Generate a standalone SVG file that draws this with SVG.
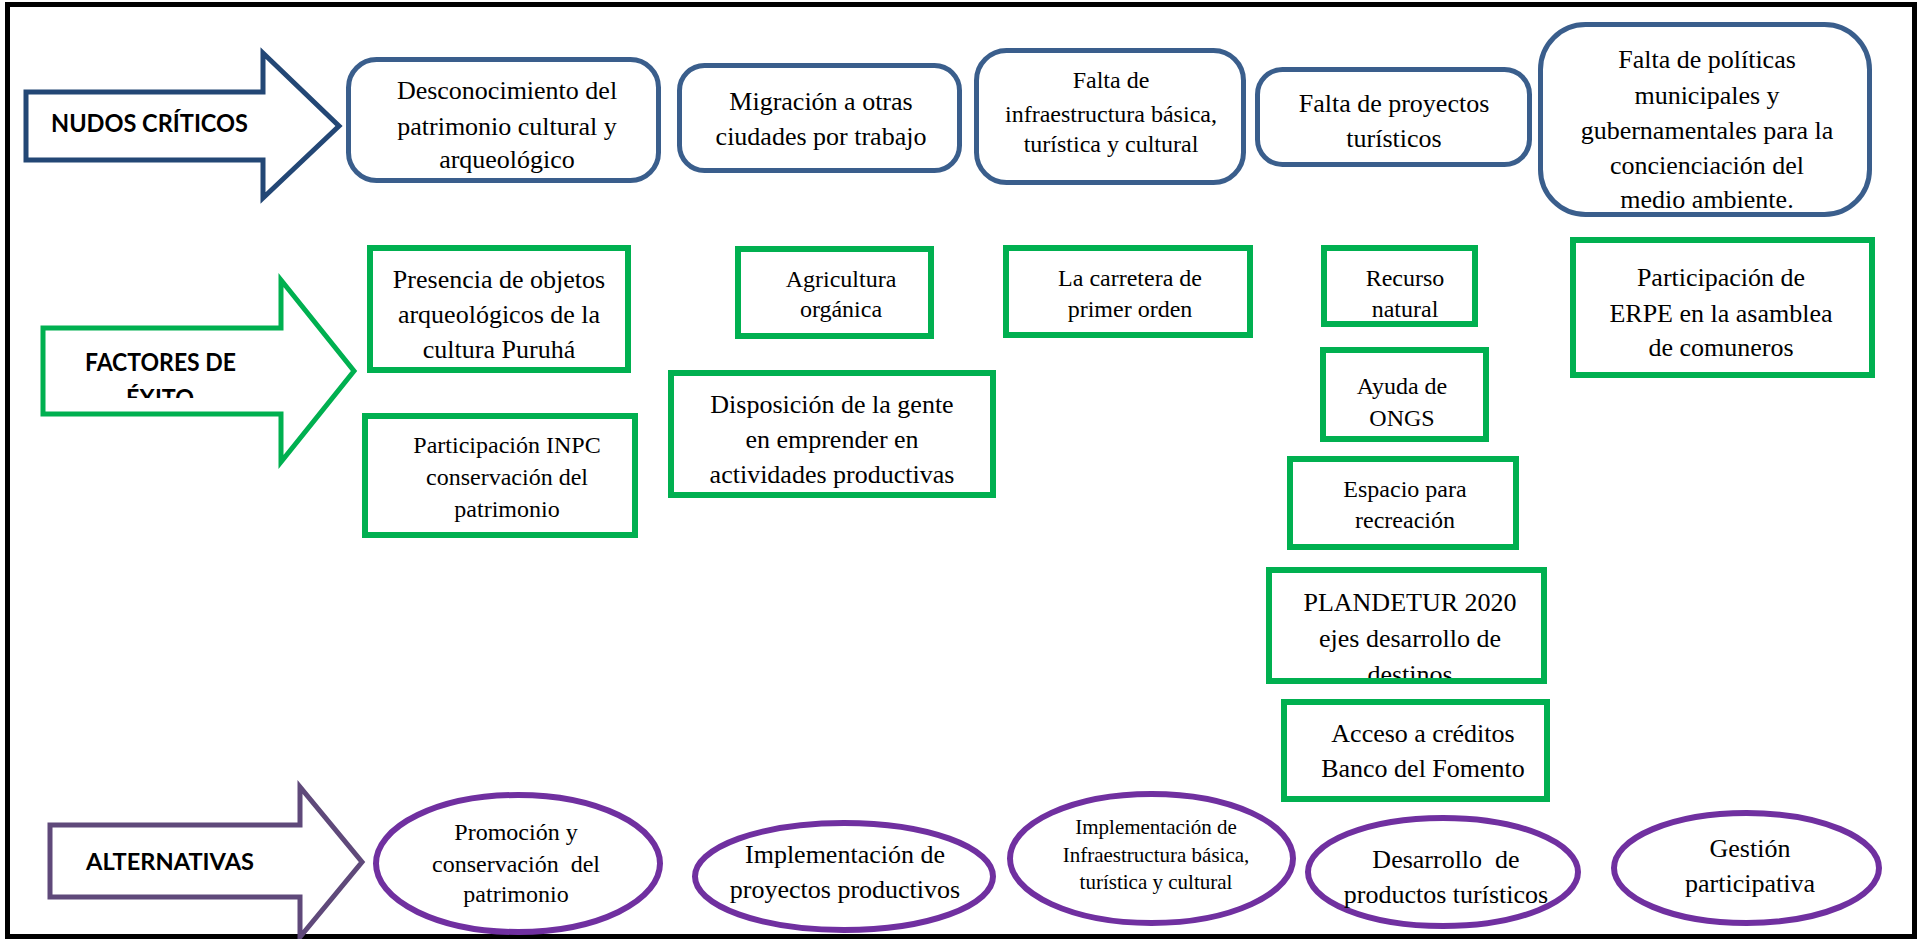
<svg xmlns="http://www.w3.org/2000/svg" width="1923" height="939" viewBox="0 0 1923 939">
<style>
.nb{fill:#fff;stroke:#3A5E8C;stroke-width:5}
.gb{fill:#fff;stroke:#00B050;stroke-width:6}
.gbo{fill:none;stroke:#00B050;stroke-width:6}
.pe{fill:#fff;stroke:#7030A0;stroke-width:6}
.t{font-family:"Liberation Serif","Times New Roman",serif;fill:#000;text-anchor:middle;white-space:pre}
.s26{font-size:26px}
.s24{font-size:24px}
.s21{font-size:21px}
.lbl{font-family:Lato,"Open Sans","Liberation Sans",sans-serif;font-weight:bold;fill:#000}
</style>
<defs>
<clipPath id="clipExito"><rect x="40" y="330" width="240" height="68"/></clipPath>
<clipPath id="clipPlan"><rect x="1266" y="567" width="281" height="114"/></clipPath>
</defs>
<rect x="0" y="0" width="1923" height="939" fill="#fff"/>
<rect x="7.5" y="4.5" width="1907" height="932" fill="none" stroke="#000" stroke-width="5"/>

<g id="label-nudos">
<polygon points="26,92 263,92 263,53 339,126 263,198 263,160 26,160" fill="#fff" stroke="#234775" stroke-width="5"/>
<text class="lbl" x="51" y="132" font-size="24" textLength="197" lengthAdjust="spacingAndGlyphs">NUDOS CRÍTICOS</text>
</g>
<g id="label-factores">
<polygon points="43,328 281,328 281,280 354,371 281,462 281,414 43,414" fill="#fff" stroke="#00B050" stroke-width="5"/>
<text class="lbl" x="85" y="371" font-size="25" textLength="151" lengthAdjust="spacingAndGlyphs">FACTORES DE</text>
<text class="lbl" x="126" y="407" font-size="25" textLength="68" lengthAdjust="spacingAndGlyphs" clip-path="url(#clipExito)">ÉXITO</text>
</g>
<g id="label-alternativas">
<polygon points="50,825 300,825 300,787 362,862 300,937 300,897 50,897" fill="#fff" stroke="#5F497A" stroke-width="5"/>
<text class="lbl" x="86" y="870" font-size="22" textLength="168" lengthAdjust="spacingAndGlyphs">ALTERNATIVAS</text>
</g>

<g id="connectors"></g>

<g id="nudo-1">
<rect class="nb" x="348.5" y="59.5" width="310" height="121" rx="28"/>
<text class="t s26" x="507" y="99">Desconocimiento del</text>
<text class="t s26" x="507" y="135">patrimonio cultural y</text>
<text class="t s26" x="507" y="168">arqueológico</text>
</g>
<g id="nudo-2">
<rect class="nb" x="679.5" y="65.5" width="280" height="105" rx="25"/>
<text class="t s26" x="821" y="110">Migración a otras</text>
<text class="t s26" x="821" y="145">ciudades por trabajo</text>
</g>
<g id="nudo-3">
<rect class="nb" x="976.5" y="50.5" width="267" height="132" rx="30"/>
<text class="t s24" x="1111" y="88">Falta de</text>
<text class="t s24" x="1111" y="122">infraestructura básica,</text>
<text class="t s24" x="1111" y="152">turística y cultural</text>
</g>
<g id="nudo-4">
<rect class="nb" x="1257.5" y="69.5" width="272" height="95" rx="25"/>
<text class="t s26" x="1394" y="112">Falta de proyectos</text>
<text class="t s26" x="1394" y="147">turísticos</text>
</g>
<g id="nudo-5">
<rect class="nb" x="1540.5" y="24.5" width="329" height="190" rx="45"/>
<text class="t s26" x="1707" y="68">Falta de políticas</text>
<text class="t s26" x="1707" y="104">municipales y</text>
<text class="t s26" x="1707" y="139">gubernamentales para la</text>
<text class="t s26" x="1707" y="174">concienciación del</text>
<text class="t s26" x="1707" y="208">medio ambiente.</text>
</g>

<g id="factor-presencia">
<rect class="gb" x="370" y="248" width="258" height="122"/>
<text class="t s26" x="499" y="288">Presencia de objetos</text>
<text class="t s26" x="499" y="323">arqueológicos de la</text>
<text class="t s26" x="499" y="358">cultura Puruhá</text>
</g>
<g id="factor-inpc">
<rect class="gb" x="365" y="416" width="270" height="119"/>
<text class="t s24" x="507" y="453">Participación INPC</text>
<text class="t s24" x="507" y="485">conservación del</text>
<text class="t s24" x="507" y="517">patrimonio</text>
</g>
<g id="factor-agricultura">
<rect class="gb" x="738" y="249" width="193" height="87"/>
<text class="t s24" x="841" y="287">Agricultura</text>
<text class="t s24" x="841" y="317">orgánica</text>
</g>
<g id="factor-disposicion">
<rect class="gb" x="671" y="373" width="322" height="122"/>
<text class="t s26" x="832" y="413">Disposición de la gente</text>
<text class="t s26" x="832" y="448">en emprender en</text>
<text class="t s26" x="832" y="483">actividades productivas</text>
</g>
<g id="factor-carretera">
<rect class="gb" x="1006" y="248" width="244" height="87"/>
<text class="t s24" x="1130" y="286">La carretera de</text>
<text class="t s24" x="1130" y="317">primer orden</text>
</g>
<g id="factor-recurso">
<rect class="gb" x="1324" y="248" width="151" height="76"/>
<text class="t s24" x="1405" y="286">Recurso</text>
<text class="t s24" x="1405" y="317">natural</text>
</g>
<g id="factor-ayuda">
<rect class="gb" x="1323" y="350" width="163" height="89"/>
<text class="t s24" x="1402" y="394">Ayuda de</text>
<text class="t s24" x="1402" y="426">ONGS</text>
</g>
<g id="factor-espacio">
<rect class="gb" x="1290" y="459" width="226" height="88"/>
<text class="t s24" x="1405" y="497">Espacio para</text>
<text class="t s24" x="1405" y="528">recreación</text>
</g>
<g id="factor-plandetur">
<rect x="1269" y="570" width="275" height="111" fill="#fff"/>
<g clip-path="url(#clipPlan)">
<text class="t s26" x="1410" y="611">PLANDETUR 2020</text>
<text class="t s26" x="1410" y="647">ejes desarrollo de</text>
<text class="t s26" x="1410" y="683">destinos</text>
</g>
<rect class="gbo" x="1269" y="570" width="275" height="111"/>
</g>
<g id="factor-acceso">
<rect class="gb" x="1284" y="702" width="263" height="97"/>
<text class="t s26" x="1423" y="742">Acceso a créditos</text>
<text class="t s26" x="1423" y="777">Banco del Fomento</text>
</g>
<g id="factor-erpe">
<rect class="gb" x="1573" y="240" width="299" height="135"/>
<text class="t s26" x="1721" y="286">Participación de</text>
<text class="t s26" x="1721" y="322">ERPE en la asamblea</text>
<text class="t s26" x="1721" y="356">de comuneros</text>
</g>

<g id="alt-promocion">
<ellipse class="pe" cx="518" cy="863.5" rx="142" ry="68.5"/>
<text class="t s24" x="516" y="840">Promoción y</text>
<text class="t s24" x="516" y="872" xml:space="preserve">conservación  del</text>
<text class="t s24" x="516" y="902">patrimonio</text>
</g>
<g id="alt-proyectos">
<ellipse class="pe" cx="844" cy="876.5" rx="149" ry="53.5"/>
<text class="t s26" x="845" y="863">Implementación de</text>
<text class="t s26" x="845" y="898">proyectos productivos</text>
</g>
<g id="alt-infraestructura">
<ellipse class="pe" cx="1151.5" cy="858.5" rx="141.5" ry="64.5"/>
<text class="t s21" x="1156" y="834">Implementación de</text>
<text class="t s21" x="1156" y="862">Infraestructura básica,</text>
<text class="t s21" x="1156" y="889">turística y cultural</text>
</g>
<g id="alt-desarrollo">
<ellipse class="pe" cx="1443" cy="872" rx="135" ry="54"/>
<text class="t s26" x="1446" y="868" xml:space="preserve">Desarrollo  de</text>
<text class="t s26" x="1446" y="903">productos turísticos</text>
</g>
<g id="alt-gestion">
<ellipse class="pe" cx="1746.5" cy="868" rx="132.5" ry="55"/>
<text class="t s26" x="1750" y="857">Gestión</text>
<text class="t s26" x="1750" y="892">participativa</text>
</g>
</svg>
